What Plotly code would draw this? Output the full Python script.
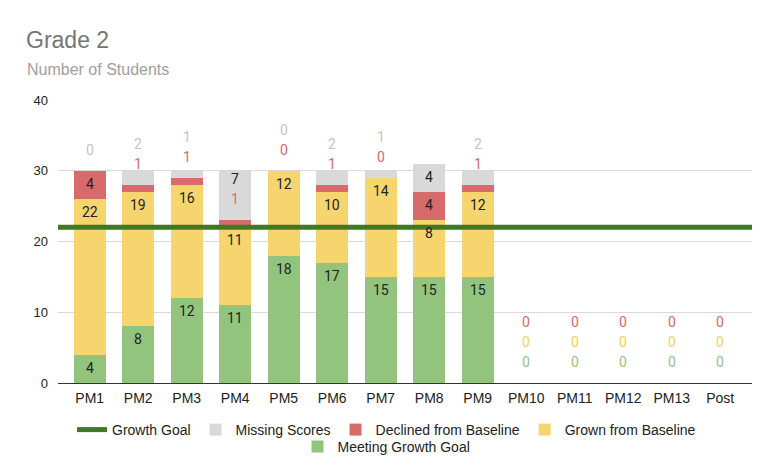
import plotly.graph_objects as go

# ---------------- data ----------------
categories = ["PM1", "PM2", "PM3", "PM4", "PM5", "PM6", "PM7", "PM8", "PM9",
              "PM10", "PM11", "PM12", "PM13", "Post"]
meeting_goal = [4, 8, 12, 11, 18, 17, 15, 15, 15, 0, 0, 0, 0, 0]
grown_baseline = [22, 19, 16, 11, 12, 10, 14, 8, 12, 0, 0, 0, 0, 0]
declined_baseline = [4, 1, 1, 1, 0, 1, 0, 4, 1, 0, 0, 0, 0, 0]
missing_scores = [0, 2, 1, 7, 0, 2, 1, 4, 2, None, None, None, None, None]
growth_goal = 22
y_ticks = [0, 10, 20, 30, 40]
y_range = [0, 40]

# ---------------- style ----------------
BODY = 8  # default page margin around the plot div
W, H = 765 - BODY, 475 - BODY
ML, MT = 58 - BODY, 100 - BODY
MR = 13
MB = H - (383 - BODY)
PLOT_H = H - MT - MB
PLOT_W = W - ML - MR
PPU = PLOT_H / (y_range[1] - y_range[0])  # pixels per unit

C_GREEN = "#93c47d"
C_YELLOW = "#f6d56f"
C_RED = "#d76a6a"
C_GRAY = "#d9d9d9"
C_GOAL = "#3f7a22"
LABEL_COLORS = {"green": "#93c47d", "yellow": "#f4cf5a", "red": "#e06666", "gray": "#c4c4c4"}

series = [
    ("Meeting Growth Goal", meeting_goal, C_GREEN, LABEL_COLORS["green"], 5),
    ("Grown from Baseline", grown_baseline, C_YELLOW, LABEL_COLORS["yellow"], 4),
    ("Declined from Baseline", declined_baseline, C_RED, LABEL_COLORS["red"], 3),
    ("Missing Scores", missing_scores, C_GRAY, LABEL_COLORS["gray"], 2),
]

fig = go.Figure()
# legend entry for the growth-goal line (the line itself is a full-width shape)
fig.add_trace(go.Scatter(
    x=[categories[0]], y=[None], mode="lines", name="Growth Goal",
    line=dict(color=C_GOAL, width=5), legendrank=1, legend="legend", hoverinfo="skip",
))
for name, vals, col, _, rank in series:
    fig.add_trace(go.Bar(
        x=categories, y=vals, name=name, marker=dict(color=col, line=dict(width=0)),
        legendrank=rank, legend="legend2" if name == "Meeting Growth Goal" else "legend",
        hoverinfo="skip",
    ))

# value labels (Google-Charts-like placement)
annotations = []
for i, cat in enumerate(categories):
    cum = 0
    prev = -1e9
    for name, vals, col, lcol, _ in series:
        v = vals[i]
        if v is None:
            continue
        cum += v
        top_px = cum * PPU
        if v * PPU >= 20:
            lab_px = top_px - 13
            color = "#222222"
        else:
            lab_px = top_px + 21
            color = lcol
        lab_px = max(lab_px, prev + 20)
        prev = lab_px
        annotations.append(dict(
            x=cat, y=cum, xref="x", yref="y", text=str(v), showarrow=False,
            yanchor="middle", yshift=lab_px - top_px,
            font=dict(family="Roboto, Arial, sans-serif", size=14, color=color),
        ))

# titles
annotations.append(dict(
    xref="paper", yref="paper", x=(24 - BODY - ML) / PLOT_W, y=(H - MB - (40 - BODY)) / PLOT_H,
    xanchor="left", yanchor="middle", showarrow=False, text="Grade 2",
    font=dict(family="Liberation Sans, Arial, sans-serif", size=23, color="#757575"),
))
annotations.append(dict(
    xref="paper", yref="paper", x=(25 - BODY - ML) / PLOT_W, y=(H - MB - (69 - BODY)) / PLOT_H,
    xanchor="left", yanchor="middle", showarrow=False, text="Number of Students",
    font=dict(family="Liberation Sans, Arial, sans-serif", size=16, color="#9e9e9e"),
))

fig.add_shape(
    type="line", xref="paper", yref="y", x0=0, x1=1, y0=growth_goal, y1=growth_goal,
    line=dict(color=C_GOAL, width=5), layer="above",
)

n = len(categories)
pad = (PLOT_W / 48.5 - n) / 2
fig.update_layout(
    width=W, height=H,
    margin=dict(l=ML, r=MR, t=MT, b=MB, autoexpand=False),
    barmode="stack", bargap=0.34,
    plot_bgcolor="white", paper_bgcolor="white",
    font=dict(family="Liberation Sans, Arial, sans-serif", size=13, color="#222222"),
    xaxis=dict(type="category", categoryorder="array", categoryarray=categories,
               range=[-0.5 - pad, n - 0.5 + pad], showgrid=False, ticks="",
               showline=True, linecolor="#333333", linewidth=1, ticklabelstandoff=2,
               tickfont=dict(size=14, color="#222222")),
    yaxis=dict(range=y_range, tickvals=y_ticks, gridcolor="#d9d9d9", gridwidth=1,
               zeroline=False, showline=False, ticks="", ticklabelstandoff=9,
               tickfont=dict(size=13, color="#222222")),
    annotations=annotations,
    showlegend=True,
    legend=dict(orientation="h", xref="container", yref="container", x=0.5, xanchor="center",
                y=1 - (430 - BODY) / H, yanchor="middle", font=dict(size=14, color="#222222"),
                traceorder="normal", bgcolor="rgba(0,0,0,0)"),
    legend2=dict(orientation="h", xref="container", yref="container", x=0.5, xanchor="center",
                 y=1 - (447 - BODY) / H, yanchor="middle", font=dict(size=14, color="#222222"),
                 bgcolor="rgba(0,0,0,0)"),
)

fig.write_html("out.html")
